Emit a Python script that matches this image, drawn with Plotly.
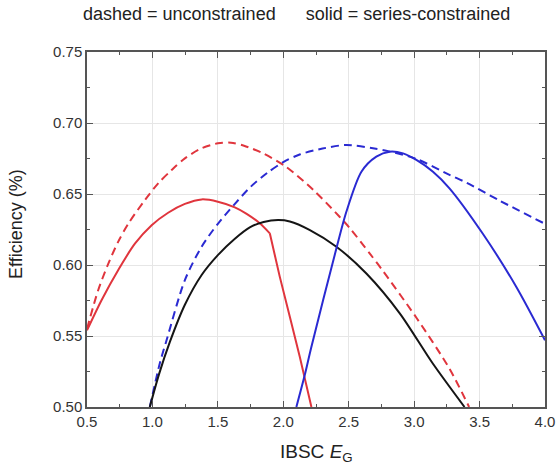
import plotly.graph_objects as go

# ---- data ----
red_dash_x = [0.5, 0.586, 0.663, 0.739, 0.815, 0.943, 1.044, 1.147, 1.248, 1.376, 1.50, 1.60, 1.70, 1.846, 2.02, 2.23, 2.43, 2.51, 2.66, 2.76, 3.02, 3.27, 3.42]
red_dash_y = [0.555, 0.5824, 0.601, 0.6165, 0.629, 0.6458, 0.6575, 0.6669, 0.6751, 0.6822, 0.6857, 0.6861, 0.684, 0.6786, 0.6692, 0.6528, 0.634, 0.6258, 0.6082, 0.596, 0.5625, 0.527, 0.500]

red_solid_x = [0.5, 0.612, 0.739, 0.866, 0.994, 1.12, 1.248, 1.376, 1.50, 1.63, 1.72, 1.82, 1.897, 1.973, 2.05, 2.126, 2.215]
red_solid_y = [0.554, 0.5754, 0.5965, 0.615, 0.628, 0.6368, 0.643, 0.6462, 0.6446, 0.6406, 0.636, 0.6294, 0.6223, 0.5918, 0.5636, 0.5354, 0.500]

black_x = [0.98, 1.05, 1.134, 1.248, 1.376, 1.50, 1.63, 1.744, 1.85, 1.96, 2.05, 2.20, 2.406, 2.635, 2.89, 3.14, 3.385]
black_y = [0.500, 0.523, 0.546, 0.572, 0.593, 0.607, 0.6185, 0.6265, 0.6303, 0.6317, 0.6307, 0.6248, 0.6129, 0.594, 0.566, 0.531, 0.500]

blue_dash_x = [0.98, 1.057, 1.108, 1.248, 1.376, 1.50, 1.62, 1.75, 1.88, 2.0, 2.13, 2.30, 2.48, 2.685, 2.81, 3.017, 3.27, 3.40, 3.65, 4.0]
blue_dash_y = [0.500, 0.531, 0.547, 0.5894, 0.6129, 0.629, 0.642, 0.655, 0.665, 0.6725, 0.678, 0.682, 0.6845, 0.6822, 0.680, 0.6747, 0.6635, 0.658, 0.6455, 0.629]

blue_solid_x = [2.10, 2.164, 2.215, 2.393, 2.482, 2.597, 2.711, 2.813, 2.915, 3.017, 3.144, 3.27, 3.525, 3.78, 4.0]
blue_solid_y = [0.500, 0.5225, 0.5425, 0.607, 0.6375, 0.6657, 0.6763, 0.6798, 0.6786, 0.674, 0.6657, 0.654, 0.622, 0.5847, 0.547]

x_ticks = [0.5, 1.0, 1.5, 2.0, 2.5, 3.0, 3.5, 4.0]
y_ticks = [0.50, 0.55, 0.60, 0.65, 0.70, 0.75]

RED = "#e0353d"
BLUE = "#2a2ad2"
BLACK = "#151515"
FONT = "Liberation Sans, Arial, sans-serif"
DASH = "8px,5px"

fig = go.Figure()

def curve(x, y, color, dash, shape="spline"):
    line = dict(color=color, width=2, dash=dash, shape=shape)
    if shape == "spline":
        line["smoothing"] = 0.8
    fig.add_trace(go.Scatter(x=x, y=y, mode="lines", line=line, showlegend=False, hoverinfo="skip"))

curve(red_dash_x, red_dash_y, RED, DASH)
curve(blue_dash_x, blue_dash_y, BLUE, DASH)
# red series-constrained: smooth part up to the kink, then straight part
k = red_solid_x.index(1.897)
curve(red_solid_x[:k + 1], red_solid_y[:k + 1], RED, "solid")
curve(red_solid_x[k:], red_solid_y[k:], RED, "solid", shape="linear")
curve(black_x, black_y, BLACK, "solid")
curve(blue_solid_x, blue_solid_y, BLUE, "solid")

axis_common = dict(
    showline=True, linecolor="#555", linewidth=1.5, mirror="ticks",
    ticks="inside", ticklen=6, tickcolor="#555", tickwidth=1.2,
    showgrid=True, gridcolor="#e6e6e6", gridwidth=1, zeroline=False,
    tickfont=dict(family=FONT, size=15, color="#333"),
    automargin=False,
)

fig.update_xaxes(range=[0.5, 4.0], tickvals=x_ticks, ticktext=[f"{v:.1f}" for v in x_ticks],
                 minor=dict(ticks="inside", ticklen=3, dtick=0.25, tick0=0.5, tickcolor="#555", showgrid=False),
                 **axis_common)
fig.update_yaxes(range=[0.5, 0.75], tickvals=y_ticks, ticktext=[f"{v:.2f}" for v in y_ticks],
                 minor=dict(ticks="inside", ticklen=3, dtick=0.025, tick0=0.5, tickcolor="#555", showgrid=False),
                 **axis_common)

# titles placed in pixel terms relative to the plot area (x 87..545, y 52..407)
def px2paper(px, py):
    return (px - 87) / 458.0, (407 - py) / 355.0

tx, ty = px2paper(296, 14)
fig.add_annotation(text="dashed = unconstrained&nbsp;&nbsp;&nbsp;&nbsp;&nbsp;&nbsp;solid = series-constrained",
                   xref="paper", yref="paper", x=tx, y=ty, showarrow=False,
                   xanchor="center", yanchor="middle",
                   font=dict(family=FONT, size=18, color="#222"))

yx, yy = px2paper(16, 224)
fig.add_annotation(text="Efficiency (%)", textangle=-90,
                   xref="paper", yref="paper", x=yx, y=yy, showarrow=False,
                   xanchor="center", yanchor="middle",
                   font=dict(family=FONT, size=18, color="#222"))

xx, xy = px2paper(316, 453)
fig.add_annotation(text="IBSC <i>E</i><sub>G</sub>",
                   xref="paper", yref="paper", x=xx, y=xy, showarrow=False,
                   xanchor="center", yanchor="middle",
                   font=dict(family=FONT, size=19, color="#222"))

fig.update_layout(width=556, height=469, margin=dict(l=87, r=11, t=52, b=62, autoexpand=False),
                  plot_bgcolor="white", paper_bgcolor="white")

fig.write_html("out.html", config={"displayModeBar": False},
               post_script="document.body.style.margin='0';document.body.style.overflow='hidden';")
